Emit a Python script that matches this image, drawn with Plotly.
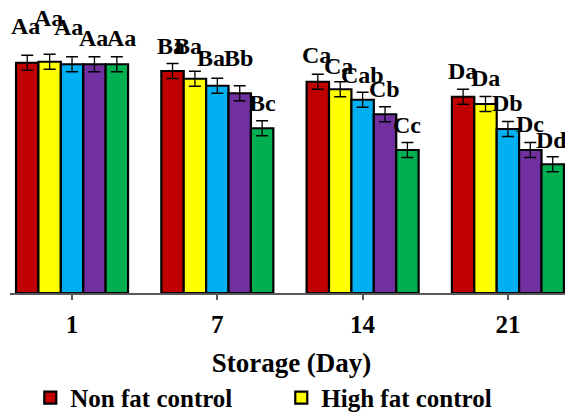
import plotly.graph_objects as go

categories = ["1", "7", "14", "21"]
series_names = ["Non fat control", "High fat control", "Treatment 1", "Treatment 2", "Treatment 3"]
colors = ["#C00000", "#FFFF00", "#00B0F0", "#7030A0", "#00B050"]

non_fat = [9.21, 8.88, 8.45, 7.85]
high_fat = [9.25, 8.57, 8.15, 7.56]
treat1 = [9.15, 8.29, 7.73, 6.56]
treat2 = [9.15, 7.99, 7.15, 5.72]
treat3 = [9.15, 6.59, 5.72, 5.15]
values = [non_fat, high_fat, treat1, treat2, treat3]

err = [0.3, 0.3, 0.3, 0.3, 0.3]

labels_non_fat = ["Aa", "Ba", "Ca", "Da"]
labels_high_fat = ["Aa", "Ba", "Ca", "Da"]
labels_t1 = ["Aa", "Ba", "Cab", "Db"]
labels_t2 = ["Aa", "Bb", "Cb", "Dc"]
labels_t3 = ["Aa", "Bc", "Cc", "Dd"]
labels = [labels_non_fat, labels_high_fat, labels_t1, labels_t2, labels_t3]

# label placement (pixel offsets from bar top), [series][category]
label_dy = [[37, 25, 27, 26], [44, 33, 23, 26], [37, 28, 25, 26], [26, 35, 25, 26], [26, 25, 25, 24]]
label_dx = [[-2, -2, -1, -1], [-1, -7, -2, 0], [-4, -6, 0, 0], [-1, -1, -1, 0], [5, 0, 0, -1]]

FONT = "Liberation Serif"
bargap = 0.229
nser = len(values)
bw = (1 - bargap) / nser

fig = go.Figure()
for j, (name, col, vals) in enumerate(zip(series_names, colors, values)):
    fig.add_trace(go.Bar(
        x=categories, y=vals, name="<b>" + name + "</b>",
        marker=dict(color=col, line=dict(color="black", width=2.2)),
        error_y=dict(type="data", array=[err[j]] * len(vals), color="black", thickness=1.3, width=6),
    ))
    for i, v in enumerate(vals):
        fig.add_annotation(
            x=i + (j - (nser - 1) / 2) * bw, y=v, xref="x", yref="y",
            text="<b>" + labels[j][i] + "</b>", showarrow=False,
            yanchor="middle", xanchor="center",
            yshift=label_dy[j][i], xshift=label_dx[j][i],
            font=dict(family=FONT, size=24, color="black"),
        )

fig.update_layout(
    width=565, height=404,
    barmode="group", bargap=bargap, bargroupgap=0,
    plot_bgcolor="white", paper_bgcolor="white",
    margin=dict(l=2, r=0, t=0, b=119, autoexpand=False),
    font=dict(family=FONT, color="black"),
    showlegend=True,
    legend=dict(
        orientation="h", x=0.036, xanchor="left", y=-0.287, yanchor="top",
        xref="paper", yref="paper",
        font=dict(family=FONT, size=25, color="black"),
        entrywidth=206, entrywidthmode="pixels",
        itemwidth=30, tracegroupgap=0, bgcolor="rgba(0,0,0,0)",
    ),
)
fig.update_xaxes(
    type="category", range=[-0.427, 3.448],
    showline=True, linecolor="#595959", linewidth=1.5,
    ticks="outside", ticklen=5, tickcolor="#595959", tickwidth=1.5,
    tickfont=dict(family=FONT, size=25, color="black"),
    tickprefix="<b>", ticksuffix="</b>",
    ticklabelstandoff=3,
    showgrid=False, zeroline=False,
    title=dict(text="<b>Storage (Day)</b>", font=dict(family=FONT, size=27, color="black"), standoff=16),
)
fig.update_yaxes(range=[0, 11.4], visible=False)

fig.write_html("out.html")
